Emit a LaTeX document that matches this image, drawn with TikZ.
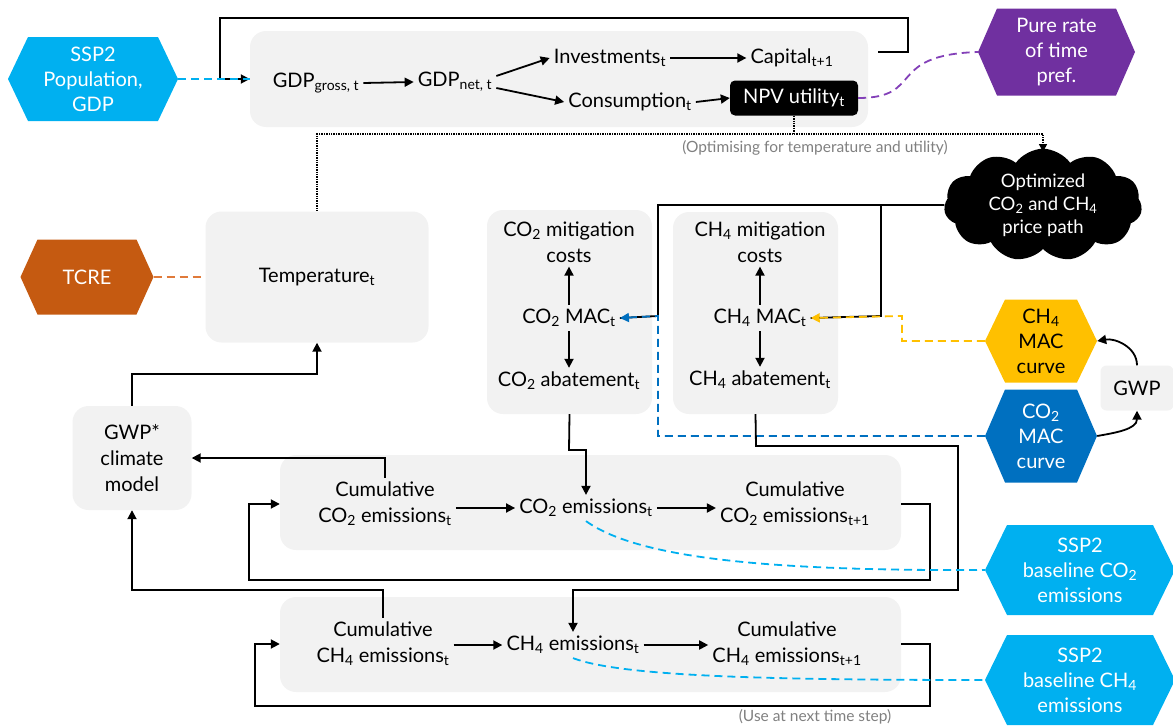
\documentclass[tikz,border=0pt]{standalone}
\usepackage{fontspec}
\setmainfont{Lato}
\usetikzlibrary{arrows.meta,shapes.symbols,calc}
\definecolor{boxgray}{HTML}{F2F2F2}
\definecolor{sspcyan}{HTML}{00B0F0}
\definecolor{macblue}{HTML}{0070C0}
\definecolor{macyellow}{HTML}{FFC000}
\definecolor{tcreorange}{HTML}{C55A11}
\definecolor{tcredash}{HTML}{E07A3A}
\definecolor{prpurple}{HTML}{7030A0}
\definecolor{prdash}{HTML}{8340B8}
\definecolor{notegray}{HTML}{808080}
\newcommand{\sbs}[1]{\textsubscript{#1}}
\begin{document}
\begin{tikzpicture}[x=1pt,y=-1pt,
  every node/.style={font=\fontsize{20}{26}\selectfont},
  txt/.style={align=center, inner sep=4pt},
  box/.style={fill=boxgray, rounded corners=16pt, inner sep=0pt},
  hexa/.style n args={4}{minimum width=#1, minimum height=#2, inner sep=0pt, align=center,
    font=\fontsize{20}{25}\selectfont,
    path picture={\fill[#3] (path picture bounding box.west)
      -- ([xshift=#4]path picture bounding box.north west)
      -- ([xshift=-#4]path picture bounding box.north east)
      -- (path picture bounding box.east)
      -- ([xshift=-#4]path picture bounding box.south east)
      -- ([xshift=#4]path picture bounding box.south west) -- cycle;}},
  ln/.style={line width=1.8pt, line join=miter},
  tip/.style={-{Triangle[length=9pt,width=9pt]}},
  arr/.style={ln, tip},
  dsh/.style={line width=1.8pt, dash pattern=on 8pt off 5pt},
  note/.style={font=\fontsize{15.5}{18}\selectfont, text=notegray}
]
\useasboundingbox (0,0) rectangle (1173,728);

% ---------- top economy box ----------
\node[box, minimum width=618, minimum height=96] (top) at (559,79) {};
\node[txt] (gross) at (316,83) {GDP\sbs{gross, t}};
\node[txt] (net) at (455,82) {GDP\sbs{net, t}};
\node[txt] (inv) at (610,58) {Investments\sbs{t}};
\node[txt] (cons) at (630,102) {Consumption\sbs{t}};
\node[txt] (cap) at (792,58) {Capital\sbs{t+1}};
\node[fill=black, text=white, rounded corners=5pt, minimum width=128, minimum height=35, inner sep=0pt] (npv) at (794,98) {NPV utility\sbs{t}};

\draw[arr] (gross.east) -- (net.west);
\draw[arr] ([yshift=6pt]net.east) -- (inv.west);
\draw[arr] ([yshift=-6pt]net.east) -- (cons.west);
\draw[arr] (inv.east) -- (cap.west);
\draw[arr] (cons.east) -- (npv.west);

\node[hexa={170}{84}{sspcyan}{20pt}, text=white] (ssp) at (93,79) {SSP2\\Population,\\GDP};
\node[hexa={157}{87}{prpurple}{19pt}, text=white] (pure) at (1056.5,52) {Pure rate\\of time\\pref.};

\coordinate (capout) at (878,52);
\draw[arr] (capout) -- (908,52) |- (220,18) |- (top.west);
\draw[dsh, sspcyan] (ssp.east) -- (top.west);
\draw[dsh, prdash] (npv.east) .. controls (925,98) and (885,55) .. (pure.west);

% ---------- optimisation ----------
\node[fill=black, text=white, cloud, cloud puffs=11, cloud puff arc=110, aspect=2.1,
      minimum width=198, minimum height=94, inner sep=0pt, align=center,
      font=\fontsize{18.5}{23}\selectfont] (cloud) at (1043,205) {Optimized\\CO\sbs{2} and CH\sbs{4}\\price path};
\node[note] (optnote) at (815,148) {(Optimising for temperature and utility)};

% ---------- temperature ----------
\node[box, minimum width=223, minimum height=131] (temp) at (317,277) {Temperature\sbs{t}};
\node[hexa={133}{75}{tcreorange}{17pt}, text=white] (tcre) at (87,277) {TCRE};
\draw[dsh, tcredash] (tcre.east) -- (temp.west);

\coordinate (optsplit) at (794,134);
\coordinate (cloudin) at (1043,152);
\draw[line width=1.4pt, densely dotted] (npv.south) -- (optsplit) -| (temp.north);
\draw[line width=1.4pt, densely dotted, -{Triangle[length=8pt,width=8pt]}] (optsplit) -| (cloudin);

% ---------- GWP* ----------
\node[box, minimum width=119, minimum height=104, align=center] (gwpstar) at (132,458) {GWP*\\climate\\model};
\draw[arr] (gwpstar.north) -- (132,374) -| (temp.south);

% ---------- mitigation boxes ----------
\node[box, minimum width=165, minimum height=204] (co2box) at (569.5,312) {};
\node[txt] (co2cost) at (569,242) {CO\sbs{2} mitigation\\costs};
\node[txt] (co2mac) at (569,318) {CO\sbs{2} MAC\sbs{t}};
\node[txt] (co2ab) at (569,381) {CO\sbs{2} abatement\sbs{t}};
\draw[arr] (co2mac.north) -- (co2cost.south);
\draw[arr] (co2mac.south) -- (co2ab.north);

\node[box, minimum width=165, minimum height=202] (ch4box) at (755.5,313) {};
\node[txt] (ch4cost) at (760,242) {CH\sbs{4} mitigation\\costs};
\node[txt] (ch4mac) at (760,318) {CH\sbs{4} MAC\sbs{t}};
\node[txt] (ch4ab) at (760,380) {CH\sbs{4} abatement\sbs{t}};
\draw[arr] (ch4mac.north) -- (ch4cost.south);
\draw[arr] (ch4mac.south) -- (ch4ab.north);

% ---------- MAC curves ----------
\node[hexa={112}{83}{macyellow}{20pt}, text=black] (ch4curve) at (1041,341) {CH\sbs{4}\\MAC\\curve};
\node[hexa={112}{93}{macblue}{20pt}, text=white] (co2curve) at (1041,436) {CO\sbs{2}\\MAC\\curve};
\node[box, rounded corners=6pt, minimum width=73, minimum height=45] (gwp) at (1137,388) {GWP};
\draw[arr] (gwp.north) to[out=90,in=10] (ch4curve.east);
\draw[arr] (co2curve.east) to[out=10,in=-90] (gwp.south);

% price path to MAC
\coordinate (pco2) at (658,316);
\coordinate (pch4) at (881,316);
\draw[ln] (cloud.west) -| (pco2) -- (co2mac.east);
\draw[ln] (pch4 |- cloud.west) -- (pch4) -- (ch4mac.east);
\draw[dsh, macblue, tip] (co2curve.west) -| (pco2) -- (co2mac.east);
\draw[dsh, macyellow, tip] (ch4curve.west) -| (902,316) -- (ch4mac.east);

% ---------- emission rows ----------
\node[box, minimum width=621, minimum height=95] (co2row) at (590.5,502.5) {};
\node[txt] (cumco2) at (385,504) {Cumulative\\CO\sbs{2} emissions\sbs{t}};
\node[txt] (co2em) at (586,508) {CO\sbs{2} emissions\sbs{t}};
\node[txt] (cumco2n) at (795,504) {Cumulative\\CO\sbs{2} emissions\sbs{t+1}};
\draw[arr] (cumco2.east|-co2em) -- (co2em.west);
\draw[arr] (co2em.east) -- (cumco2n.west|-co2em);

\node[box, minimum width=621, minimum height=95] (ch4row) at (590.5,644.5) {};
\node[txt] (cumch4) at (383,644) {Cumulative\\CH\sbs{4} emissions\sbs{t}};
\node[txt] (ch4em) at (573,645) {CH\sbs{4} emissions\sbs{t}};
\node[txt] (cumch4n) at (787,644) {Cumulative\\CH\sbs{4} emissions\sbs{t+1}};
\draw[arr] (cumch4.east|-ch4em) -- (ch4em.west);
\draw[arr] (ch4em.east) -- (cumch4n.west|-ch4em);

\node[hexa={190}{90}{sspcyan}{22pt}, text=white] (sspco2) at (1080,570) {SSP2\\baseline CO\sbs{2}\\emissions};
\node[hexa={190}{90}{sspcyan}{22pt}, text=white] (sspch4) at (1080,680) {SSP2\\baseline CH\sbs{4}\\emissions};

% abatement to emissions
\draw[arr] (co2box.south) -- (569,450) -| (co2em.north);
\draw[arr] (ch4box.south) -- (756,446) -| (958,590) -| (ch4em.north);

% loops
\draw[arr] (co2row.east|-cumco2) -- (930,504) |- (249,580) |- (co2row.west|-cumco2);
\draw[arr] (ch4row.east|-cumch4) -- (930,644) |- (255,706) |- (ch4row.west|-cumch4);

% to GWP*
\draw[arr] (cumco2.north) |- (gwpstar.east);
\draw[arr] (cumch4.north) -- (383,590) -| (gwpstar.south);

% baselines
\draw[dsh, sspcyan] (co2em.south) .. controls (640,560) and (780,571) .. (sspco2.west);
\draw[dsh, sspcyan] (ch4em.south) .. controls (620,676) and (760,680) .. (sspch4.west);

\node[note] (nextnote) at (815,717) {(Use at next time step)};
\end{tikzpicture}
\end{document}
